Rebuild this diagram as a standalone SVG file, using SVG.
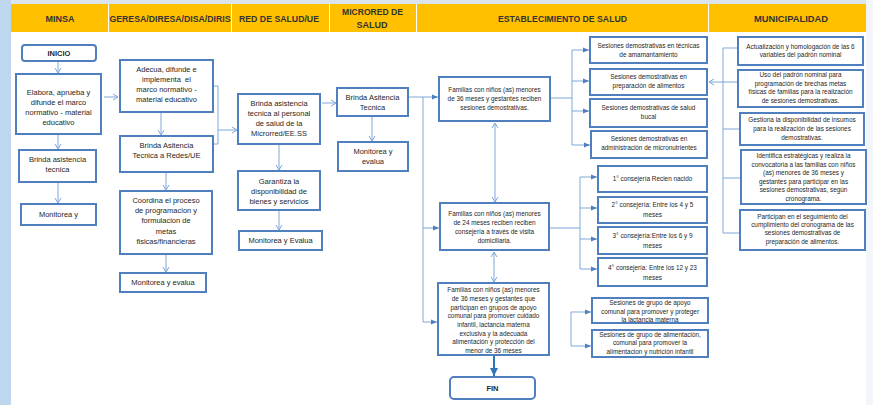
<svg xmlns="http://www.w3.org/2000/svg" width="873" height="405" viewBox="0 0 873 405">
<style>
.box{fill:#fff;stroke:#4F7FBF;stroke-width:2}
.conn{stroke:#7FA7D9;stroke-width:1;fill:none}
.t{font-family:"Liberation Sans",Arial,sans-serif;fill:#262626;text-anchor:middle;font-size:7.5px}
.s{font-size:6.4px}
.b{font-weight:bold}
.h{font-family:"Liberation Sans",Arial,sans-serif;fill:#333;text-anchor:middle;font-size:9px;font-weight:bold}
</style>
<defs>
<marker id="open" markerWidth="8" markerHeight="8" refX="6" refY="4" orient="auto-start-reverse" markerUnits="userSpaceOnUse">
<path d="M1,1 L6,4 L1,7" fill="none" stroke="#7FA7D9" stroke-width="1"/>
</marker>
<marker id="fill" markerWidth="8" markerHeight="8" refX="6" refY="4" orient="auto" markerUnits="userSpaceOnUse">
<path d="M0,1.5 L6,4 L0,6.5 Z" fill="#4F7FBF"/>
</marker>
<marker id="big" markerWidth="10" markerHeight="10" refX="8" refY="5" orient="auto" markerUnits="userSpaceOnUse">
<path d="M0,1 L8,5 L0,9 Z" fill="#2E75B6"/>
</marker>
</defs>
<rect x="0" y="0" width="873" height="405" fill="#fff"/>
<rect x="0" y="0" width="873" height="4" fill="#DCE4EE"/>
<rect x="0" y="0" width="11" height="405" fill="#BDD7EE"/>
<rect x="866" y="0" width="7" height="405" fill="#F2F5F9"/>
<g id="header">
<rect x="11" y="4" width="855" height="28" fill="#FFC000"/>
<g stroke="#fff" stroke-width="1">
<line x1="108.5" y1="4" x2="108.5" y2="32"/>
<line x1="231.5" y1="4" x2="231.5" y2="32"/>
<line x1="329.5" y1="4" x2="329.5" y2="32"/>
<line x1="416.5" y1="4" x2="416.5" y2="32"/>
<line x1="708.5" y1="4" x2="708.5" y2="32"/>
</g>
<text class="h" x="60" y="21.5">MINSA</text>
<text class="h" x="170" y="21.5" textLength="121" lengthAdjust="spacingAndGlyphs">GERESA/DIRESA/DISA/DIRIS</text>
<text class="h" x="279" y="21.5" textLength="80" lengthAdjust="spacingAndGlyphs">RED DE SALUD/UE</text>
<text class="h" x="372.5" y="15" textLength="61" lengthAdjust="spacingAndGlyphs">MICRORED DE</text>
<text class="h" x="372" y="28">SALUD</text>
<text class="h" x="562.5" y="21.5" textLength="129" lengthAdjust="spacingAndGlyphs">ESTABLECIMIENTO DE SALUD</text>
<text class="h" x="791" y="21.5" textLength="74" lengthAdjust="spacingAndGlyphs">MUNICIPALIDAD</text>
</g>
<g id="connectors">
<line class="conn" x1="58" y1="62" x2="58" y2="73" marker-end="url(#open)"/>
<line class="conn" x1="58" y1="135" x2="58" y2="149" marker-end="url(#open)"/>
<line class="conn" x1="58" y1="183" x2="58" y2="203" marker-end="url(#open)"/>
<line class="conn" x1="104" y1="97" x2="118" y2="97" marker-end="url(#open)"/>
<line class="conn" x1="161" y1="113" x2="161" y2="135" marker-end="url(#open)"/>
<line class="conn" x1="166" y1="173" x2="166" y2="190" marker-end="url(#open)"/>
<line class="conn" x1="166" y1="255" x2="166" y2="272" marker-end="url(#open)"/>
<path class="conn" d="M214,86 H218 V144 H214"/>
<line class="conn" x1="218" y1="130" x2="237" y2="130" marker-end="url(#open)"/>
<line class="conn" x1="279" y1="145" x2="279" y2="170" marker-end="url(#open)"/>
<line class="conn" x1="279" y1="211" x2="279" y2="230" marker-end="url(#open)"/>
<line class="conn" x1="322" y1="103" x2="336" y2="103" marker-end="url(#open)"/>
<line class="conn" x1="372" y1="117" x2="372" y2="141" marker-end="url(#open)"/>
<path class="conn" d="M409,97 H423 V322"/>
<line class="conn" x1="423" y1="97" x2="438" y2="97" marker-end="url(#fill)"/>
<line class="conn" x1="423" y1="228" x2="439" y2="228" marker-end="url(#fill)"/>
<line class="conn" x1="423" y1="322" x2="437" y2="322" marker-end="url(#fill)"/>
<line class="conn" x1="495" y1="123" x2="495" y2="202" marker-start="url(#open)" marker-end="url(#open)"/>
<line class="conn" x1="494" y1="252" x2="494" y2="282" marker-start="url(#open)" marker-end="url(#open)"/>
<line x1="494" y1="356" x2="494" y2="376" stroke="#2E75B6" stroke-width="2" marker-end="url(#big)"/>
<path class="conn" d="M551,98 H572 M572,50 V145"/>
<line class="conn" x1="572" y1="50" x2="589" y2="50" marker-end="url(#fill)"/>
<line class="conn" x1="572" y1="81" x2="589" y2="81" marker-end="url(#fill)"/>
<line class="conn" x1="572" y1="111" x2="589" y2="111" marker-end="url(#fill)"/>
<line class="conn" x1="572" y1="145" x2="590" y2="145" marker-end="url(#fill)"/>
<path class="conn" d="M550,228 H580 M580,177 V269"/>
<line class="conn" x1="580" y1="177" x2="597" y2="177" marker-end="url(#fill)"/>
<line class="conn" x1="580" y1="208" x2="597" y2="208" marker-end="url(#fill)"/>
<line class="conn" x1="580" y1="239" x2="597" y2="239" marker-end="url(#fill)"/>
<line class="conn" x1="580" y1="269" x2="597" y2="269" marker-end="url(#fill)"/>
<path class="conn" d="M571,312 V346"/>
<line class="conn" x1="571" y1="312" x2="591" y2="312" marker-end="url(#fill)"/>
<line class="conn" x1="571" y1="346" x2="591" y2="346" marker-end="url(#fill)"/>
<path class="conn" d="M739,48 H723 V233 H739 M723,129 H739 M723,178 H740"/>
<line class="conn" x1="737" y1="82" x2="709" y2="82" marker-end="url(#open)"/>
</g>
<g id="inicio"><rect class="box" x="22" y="45" width="74" height="16" rx="3"/><text class="t b" x="59" y="55.5" font-size="7">INICIO</text></g>
<g id="minsa1"><rect class="box" x="16" y="74" width="85" height="60"/>
<text class="t" x="58.5" y="94.6">Elabora, aprueba y</text><text class="t" x="58.5" y="104.6">difunde el marco</text><text class="t" x="58.5" y="114.6">normativo - material</text><text class="t" x="58.5" y="124.6">educativo</text></g>
<g id="minsa2"><rect class="box" x="19" y="150" width="77" height="32"/>
<text class="t" x="57.5" y="161.5">Brinda asistencia</text><text class="t" x="57.5" y="172">tecnica</text></g>
<g id="minsa3"><rect class="box" x="21" y="204" width="75" height="21"/><text class="t" x="58.5" y="217">Monitorea y</text></g>
<g id="geresa1"><rect class="box" x="120" y="60" width="93" height="52"/>
<text class="t" x="166.5" y="71.6">Adecua, difunde e</text><text class="t" x="166.5" y="81.6" style="white-space:pre">implementa  el</text><text class="t" x="166.5" y="91.6">marco normativo -</text><text class="t" x="166.5" y="101.6">material educativo</text></g>
<g id="geresa2"><rect class="box" x="120" y="136" width="93" height="36"/>
<text class="t" x="166.5" y="147.6">Brinda Asitencia</text><text class="t" x="166.5" y="157.6">Tecnica a Redes/UE</text></g>
<g id="geresa3"><rect class="box" x="120" y="191" width="92" height="63"/>
<text class="t" x="166" y="202.6">Coordina el proceso</text><text class="t" x="166" y="212.9">de programacion y</text><text class="t" x="166" y="223.2">formulacion de</text><text class="t" x="166" y="233.5">metas</text><text class="t" x="166" y="243.8">fisicas/financieras</text></g>
<g id="geresa4"><rect class="box" x="120" y="273" width="86" height="19"/><text class="t" x="163" y="285">Monitorea y evalua</text></g>
<g id="red1"><rect class="box" x="238" y="94" width="82" height="50"/>
<text class="t" x="279" y="105.6">Brinda asistencia</text><text class="t" x="279" y="115.8">tecnica al personal</text><text class="t" x="279" y="126">de salud de la</text><text class="t" x="279" y="136.2">Microrred/EE.SS</text></g>
<g id="red2"><rect class="box" x="238" y="171" width="82" height="39"/>
<text class="t" x="279" y="183.6">Garantiza la</text><text class="t" x="279" y="193.8">disponibilidad de</text><text class="t" x="279" y="204">bienes y servicios</text></g>
<g id="red3"><rect class="box" x="239" y="231" width="83" height="19"/><text class="t" x="280.5" y="243">Monitorea y Evalua</text></g>
<g id="micro1"><rect class="box" x="337" y="88" width="71" height="28"/>
<text class="t" x="372.5" y="99.6">Brinda Asitencia</text><text class="t" x="372.5" y="109.6">Tecnica</text></g>
<g id="micro2"><rect class="box" x="338" y="142" width="70" height="29"/>
<text class="t" x="373" y="153.6">Monitorea y</text><text class="t" x="373" y="163.6">evalua</text></g>
<g id="f1"><rect class="box" x="439" y="77" width="111" height="44"/>
<text class="t s" x="494.5" y="92.2">Familias con niños (as) menores</text><text class="t s" x="494.5" y="101.2">de 36 meses y gestantes reciben</text><text class="t s" x="494.5" y="110.2">sesiones demostrativas.</text></g>
<g id="f2"><rect class="box" x="440" y="203" width="109" height="47"/>
<text class="t s" x="494.5" y="216.2">Familias con niños (as) menores</text><text class="t s" x="494.5" y="225">de 24 meses reciben reciben</text><text class="t s" x="494.5" y="233.8">consejería a través de visita</text><text class="t s" x="494.5" y="242.5">domiciliaria.</text></g>
<g id="f3"><rect class="box" x="438" y="283" width="111" height="72"/>
<text class="t s" x="493.5" y="292.2">Familias con niños (as) menores</text><text class="t s" x="493.5" y="300.9">de 36 meses y gestantes que</text><text class="t s" x="493.5" y="309.6">participan en grupos de apoyo</text><text class="t s" x="493.5" y="318.3">comunal para promover cuidado</text><text class="t s" x="493.5" y="327">infantil, lactancia materna</text><text class="t s" x="493.5" y="335.7">exclusiva y la adecuada</text><text class="t s" x="493.5" y="344.4">alimentación y protección del</text><text class="t s" x="493.5" y="353.1">menor de 36 meses</text></g>
<g id="fin"><rect class="box" x="450" y="377" width="85" height="22" rx="4"/><text class="t b" x="492.5" y="390.5" font-size="7">FIN</text></g>
<g id="s1"><rect class="box" x="590" y="37" width="117" height="26"/><text class="t s" x="648.5" y="48.2">Sesiones demostrativas en técnicas</text><text class="t s" x="648.5" y="56.7">de amamantamiento</text></g>
<g id="s2"><rect class="box" x="590" y="69" width="117" height="26"/><text class="t s" x="648.5" y="79.2">Sesiones demostrativas en</text><text class="t s" x="648.5" y="87.8">preparación de alimentos</text></g>
<g id="s3"><rect class="box" x="590" y="99" width="117" height="28"/><text class="t s" x="648.5" y="110.2">Sesiones demostrativas de salud</text><text class="t s" x="648.5" y="118.8">bucal</text></g>
<g id="s4"><rect class="box" x="591" y="131" width="116" height="27"/><text class="t s" x="649" y="141.2">Sesiones demostrativas en</text><text class="t s" x="649" y="149.7">administración de micronutrientes</text></g>
<g id="c1"><rect class="box" x="598" y="166" width="109" height="26"/><text class="t s" x="652.5" y="181.2">1° consejería Recien nacido</text></g>
<g id="c2"><rect class="box" x="598" y="197" width="109" height="26"/><text class="t s" x="652.5" y="206.5">2° consejería: Entre los 4 y 5</text><text class="t s" x="652.5" y="216.5">meses</text></g>
<g id="c3"><rect class="box" x="598" y="227" width="109" height="27"/><text class="t s" x="652.5" y="238.2">3° consejería:Entre los 6 y 9</text><text class="t s" x="652.5" y="247.7">meses</text></g>
<g id="c4"><rect class="box" x="598" y="258" width="109" height="28"/><text class="t s" x="652.5" y="270.2">4° consejería: Entre los 12 y 23</text><text class="t s" x="652.5" y="280.2">meses</text></g>
<g id="g1"><rect class="box" x="592" y="298" width="116" height="25"/><text class="t s" x="650" y="305.2">Sesiones de grupo de apoyo</text><text class="t s" x="650" y="313.8">comunal para promover y proteger</text><text class="t s" x="650" y="322.2">la lactancia materna</text></g>
<g id="g2"><rect class="box" x="592" y="330" width="116" height="27"/><text class="t s" x="650" y="337.2">Sesiones de grupo de alimentación,</text><text class="t s" x="650" y="345.4">comunal para promover la</text><text class="t s" x="650" y="353.5">alimentacion y nutrición infantil</text></g>
<g id="m1"><rect class="box" x="738" y="37" width="125" height="28"/><text class="t s" x="800.5" y="49.2">Actualización y homologación de las 6</text><text class="t s" x="800.5" y="57.4">variables del padrón nominal</text></g>
<g id="m2"><rect class="box" x="738" y="70" width="125" height="37"/><text class="t s" x="800.5" y="77.4">Uso del padrón nominal para</text><text class="t s" x="800.5" y="85.8">programación de brechas metas</text><text class="t s" x="800.5" y="94.4">físicas de familias para la realización</text><text class="t s" x="800.5" y="103">de sesiones demostrativas.</text></g>
<g id="m3"><rect class="box" x="740" y="113" width="124" height="32"/><text class="t s" x="802" y="122.4">Gestiona la disponibilidad de insumos</text><text class="t s" x="802" y="131.2">para la realización de las sesiones</text><text class="t s" x="802" y="140.2">demostrativas.</text></g>
<g id="m4"><rect class="box" x="741" y="150" width="125" height="54"/><text class="t s" x="803.5" y="158.4">Identifica estratégicas y realiza la</text><text class="t s" x="803.5" y="166.8">convocatoria a las familias con niños</text><text class="t s" x="803.5" y="175.2">(as) menores de 36 meses y</text><text class="t s" x="803.5" y="183.7">gestantes para participar en las</text><text class="t s" x="803.5" y="192.2">sesiones demostrativas, según</text><text class="t s" x="803.5" y="200.6">cronograma.</text></g>
<g id="m5"><rect class="box" x="740" y="210" width="125" height="40"/><text class="t s" x="802.5" y="218.6">Participan en el seguimiento del</text><text class="t s" x="802.5" y="227">cumplimiento del cronograma de las</text><text class="t s" x="802.5" y="235.4">sesiones demostrativas de</text><text class="t s" x="802.5" y="243.8">preparación de alimentos.</text></g>
</svg>
